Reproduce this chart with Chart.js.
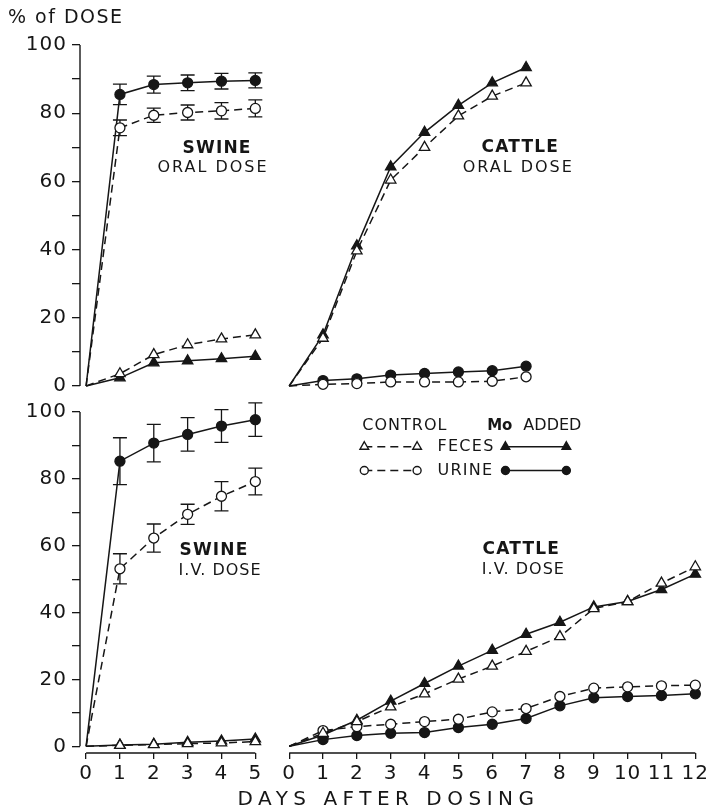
<!DOCTYPE html>
<html>
<head>
<meta charset="utf-8">
<title>Molybdenum excretion in swine and cattle</title>
<script src="https://cdn.jsdelivr.net/npm/chart.js@4.4.0/dist/chart.umd.min.js"></script>
<style>
  html, body { margin: 0; padding: 0; background: #ffffff; }
  #wrap { position: relative; width: 708px; height: 812px; overflow: hidden; }
  #topBox { position: absolute; left: 0; top: 0; width: 708px; height: 403px; }
  #botBox { position: absolute; left: 0; top: 395px; width: 708px; height: 417px; }
</style>
</head>
<body>
<div id="wrap">
  <div id="topBox"><canvas id="topChart"></canvas></div>
  <div id="botBox"><canvas id="botChart"></canvas></div>
</div>
<script>
// ---- Days and axis ticks ----
const swineDays = [0, 1, 2, 3, 4, 5];
const cattleOralDays = [0, 1, 2, 3, 4, 5, 6, 7];
const cattleIvDays = [0, 1, 2, 3, 4, 5, 6, 7, 8, 9, 10, 11, 12];
const cattleOffset = 6; // cattle days follow the swine block on the shared day axis
const xTickLabels = ['0', '1', '2', '3', '4', '5',
                     '0', '1', '2', '3', '4', '5', '6', '7', '8', '9', '10', '11', '12'];
const yTickValues = [0, 10, 20, 30, 40, 50, 60, 70, 80, 90, 100];

// ---- Swine, oral dose (% of dose, cumulative) ----
const swineOralFecesControl = [0, 3.6, 9.2, 12.1, 13.8, 15.0];
const swineOralFecesMo      = [0, 2.4, 6.8, 7.4, 8.0, 8.7];
const swineOralUrineControl = [0, 75.7, 79.4, 80.2, 80.7, 81.4];
const swineOralUrineControlErr = [0, 2.3, 2.1, 2.2, 2.4, 2.5];
const swineOralUrineMo      = [0, 85.5, 88.4, 88.9, 89.4, 89.6];
const swineOralUrineMoErr   = [0, 3.0, 2.5, 2.3, 2.3, 2.2];

// ---- Cattle, oral dose ----
const cattleOralFecesControl = [0, 14.0, 39.6, 60.4, 70.0, 79.2, 85.0, 88.9];
const cattleOralFecesMo      = [0, 15.0, 41.1, 64.3, 74.4, 82.3, 88.9, 93.4];
const cattleOralUrineControl = [0, 0.5, 0.7, 1.2, 1.2, 1.2, 1.4, 2.7];
const cattleOralUrineMo      = [0, 1.6, 2.1, 3.2, 3.7, 4.1, 4.5, 5.8];

// ---- Swine, I.V. dose ----
const swineIvFecesControl = [0, 0.3, 0.5, 0.8, 1.0, 1.4];
const swineIvFecesMo      = [0, 0.4, 0.6, 1.2, 1.6, 2.2];
const swineIvUrineControl = [0, 53.1, 62.3, 69.4, 74.8, 79.2];
const swineIvUrineControlErr = [0, 4.5, 4.2, 3.0, 4.4, 4.0];
const swineIvUrineMo      = [0, 85.3, 90.7, 93.3, 95.8, 97.7];
const swineIvUrineMoErr   = [0, 7.0, 5.6, 5.0, 4.9, 5.0];

// ---- Cattle, I.V. dose ----
const cattleIvFecesControl = [0, 3.9, 7.4, 11.8, 15.7, 20.1, 24.0, 28.4, 32.8, 41.2, 43.3, 48.8, 53.7];
const cattleIvFecesMo      = [0, 3.4, 7.8, 13.5, 18.8, 24.0, 28.7, 33.5, 37.1, 41.7, 43.3, 46.9, 51.5];
const cattleIvUrineControl = [0, 4.7, 5.9, 6.6, 7.4, 8.1, 10.3, 11.3, 14.9, 17.4, 17.8, 18.1, 18.3];
const cattleIvUrineMo      = [0, 2.0, 3.2, 3.9, 4.1, 5.6, 6.6, 8.3, 12.1, 14.5, 14.9, 15.2, 15.7];

// ---- Styling ----
const INK = '#161616';
const FONT = '"DejaVu Sans", "Liberation Sans", sans-serif';
const TREATMENT = {
  control: { dash: [8, 5], fill: '#ffffff' },
  mo:      { dash: [],     fill: INK }
};
const EXCRETA = {
  feces: { pointStyle: 'triangle', radius: 6 },
  urine: { pointStyle: 'circle',   radius: 5 }
};

function series(label, days, values, offset, treatment, excreta, errors) {
  const t = TREATMENT[treatment], e = EXCRETA[excreta];
  return {
    label,
    data: days.map((d, i) => ({ x: d + offset, y: values[i] })),
    errors: errors || null,
    borderColor: INK,
    borderWidth: 1.5,
    borderDash: t.dash,
    tension: 0,
    fill: false,
    clip: false,
    pointStyle: e.pointStyle,
    pointRadius: days.map(d => (d === 0 ? 0 : e.radius)),
    pointHoverRadius: 0,
    pointBackgroundColor: t.fill,
    pointBorderColor: INK,
    pointBorderWidth: 1.3
  };
}

function drawMarker(ctx, style, x, y, r, filled) {
  ctx.beginPath();
  if (style === 'circle') {
    ctx.arc(x, y, r, 0, Math.PI * 2);
  } else {
    let a = 0;
    ctx.moveTo(x + Math.sin(a) * r, y - Math.cos(a) * r);
    a += 2 * Math.PI / 3;
    ctx.lineTo(x + Math.sin(a) * r, y - Math.cos(a) * r);
    a += 2 * Math.PI / 3;
    ctx.lineTo(x + Math.sin(a) * r, y - Math.cos(a) * r);
  }
  ctx.closePath();
  ctx.fillStyle = filled ? INK : '#ffffff';
  ctx.fill();
  ctx.stroke();
}

function drawText(ctx, item, px, py) {
  ctx.save();
  ctx.font = (item.bold ? 'bold ' : '') + item.size + 'px ' + FONT;
  ctx.letterSpacing = (item.spacing || 0) + 'px';
  ctx.fillStyle = INK;
  ctx.textBaseline = 'middle';
  ctx.textAlign = item.align || 'center';
  ctx.fillText(item.text, px, py);
  ctx.restore();
}

// Error bars, axis lines, panel captions and the key
const decor = {
  id: 'decor',
  beforeDraw(chart) {
    chart.ctx.letterSpacing = '1px';
  },
  beforeDatasetsDraw(chart, args, opts) {
    const ctx = chart.ctx, xs = chart.scales.x, ys = chart.scales.y;
    const area = chart.chartArea;
    ctx.save();
    ctx.letterSpacing = '0px';
    ctx.strokeStyle = INK;
    ctx.lineWidth = 1.4;
    // axis lines
    ctx.beginPath();
    ctx.moveTo(area.left, ys.getPixelForValue(100));
    ctx.lineTo(area.left, ys.getPixelForValue(0));
    (opts.xSegments || []).forEach(([a, b]) => {
      ctx.moveTo(xs.getPixelForValue(a), area.bottom);
      ctx.lineTo(xs.getPixelForValue(b), area.bottom);
    });
    ctx.stroke();
    // error bars (± SE)
    const cap = 7;
    ctx.lineWidth = 1.3;
    chart.data.datasets.forEach(ds => {
      if (!ds.errors) return;
      ds.data.forEach((p, i) => {
        const e = ds.errors[i];
        if (!e) return;
        const x = xs.getPixelForValue(p.x);
        const hi = ys.getPixelForValue(p.y + e);
        const lo = ys.getPixelForValue(p.y - e);
        ctx.beginPath();
        ctx.moveTo(x, hi); ctx.lineTo(x, lo);
        ctx.moveTo(x - cap, hi); ctx.lineTo(x + cap, hi);
        ctx.moveTo(x - cap, lo); ctx.lineTo(x + cap, lo);
        ctx.stroke();
      });
    });
    ctx.restore();
  },
  afterDraw(chart, args, opts) {
    const ctx = chart.ctx, xs = chart.scales.x, ys = chart.scales.y;
    (opts.captions || []).forEach(c => {
      drawText(ctx, c, xs.getPixelForValue(c.x), ys.getPixelForValue(c.y));
    });
    (opts.fixedTexts || []).forEach(c => {
      const px = c.px === 'center' ? (chart.chartArea.left + chart.chartArea.right) / 2 : c.px;
      const py = c.fromBottom != null ? chart.height - c.fromBottom : c.py;
      drawText(ctx, c, px, py);
    });
    const k = opts.key;
    if (k) {
      ctx.save();
      ctx.letterSpacing = '0px';
      ctx.strokeStyle = INK;
      ctx.lineWidth = 1.4;
      const X = v => xs.getPixelForValue(v), Y = v => ys.getPixelForValue(v);
      k.heads.forEach(h => drawText(ctx, h, X(h.x), Y(k.headY)));
      k.rows.forEach(r => {
        const y = Y(r.y);
        // control: dashed
        ctx.setLineDash([8, 5]);
        ctx.beginPath(); ctx.moveTo(X(k.c0), y); ctx.lineTo(X(k.c1), y); ctx.stroke();
        ctx.setLineDash([]);
        drawMarker(ctx, r.style, X(k.c0), y, r.r, false);
        drawMarker(ctx, r.style, X(k.c1), y, r.r, false);
        drawText(ctx, { text: r.text, size: 16, spacing: 1.3, align: 'left' }, X(k.textX), y);
        // Mo added: solid
        ctx.beginPath(); ctx.moveTo(X(k.m0), y); ctx.lineTo(X(k.m1), y); ctx.stroke();
        drawMarker(ctx, r.style, X(k.m0), y, r.r, true);
        drawMarker(ctx, r.style, X(k.m1), y, r.r, true);
      });
      ctx.restore();
    }
    ctx.letterSpacing = '0px';
  }
};

function baseOptions(showX, padding, decorOpts) {
  return {
    responsive: true,
    maintainAspectRatio: false,
    devicePixelRatio: 1,
    animation: false,
    events: [],
    layout: { padding },
    plugins: { legend: { display: false }, tooltip: { enabled: false }, title: { display: false }, decor: decorOpts },
    scales: {
      x: {
        type: 'linear',
        display: showX,
        min: -0.18,
        max: 18.05,
        border: { display: false },
        grid: { drawOnChartArea: false, drawTicks: true, tickLength: 6, color: INK, lineWidth: 1.3 },
        afterBuildTicks: s => { s.ticks = xTickLabels.map((_, i) => ({ value: i })); },
        afterFit: s => { s.paddingLeft = 0; s.paddingRight = 0; },
        ticks: {
          autoSkip: false, maxRotation: 0, padding: 3, color: INK,
          font: { family: FONT, size: 20 },
          callback: v => xTickLabels[v] ?? ''
        }
      },
      y: {
        type: 'linear',
        min: showX ? -2 : 0,
        max: 100,
        border: { display: false },
        grid: { drawOnChartArea: false, drawTicks: true, tickLength: 8, color: INK, lineWidth: 1.3 },
        afterBuildTicks: s => { s.ticks = yTickValues.map(v => ({ value: v })); },
        afterFit: s => { s.width = 72; },
        ticks: {
          padding: 5, color: INK,
          font: { family: FONT, size: 20 },
          callback: v => (v % 20 === 0 ? String(v) : '')
        }
      }
    }
  };
}

// ---- Oral dose panel ----
new Chart(document.getElementById('topChart'), {
  type: 'line',
  data: {
    datasets: [
      series('Swine feces, control', swineDays, swineOralFecesControl, 0, 'control', 'feces'),
      series('Swine feces, Mo added', swineDays, swineOralFecesMo, 0, 'mo', 'feces'),
      series('Swine urine, control', swineDays, swineOralUrineControl, 0, 'control', 'urine', swineOralUrineControlErr),
      series('Swine urine, Mo added', swineDays, swineOralUrineMo, 0, 'mo', 'urine', swineOralUrineMoErr),
      series('Cattle feces, control', cattleOralDays, cattleOralFecesControl, cattleOffset, 'control', 'feces'),
      series('Cattle feces, Mo added', cattleOralDays, cattleOralFecesMo, cattleOffset, 'mo', 'feces'),
      series('Cattle urine, control', cattleOralDays, cattleOralUrineControl, cattleOffset, 'control', 'urine'),
      series('Cattle urine, Mo added', cattleOralDays, cattleOralUrineMo, cattleOffset, 'mo', 'urine')
    ]
  },
  options: baseOptions(false, { left: 8, right: 11, top: 45, bottom: 13 }, {
    captions: [
      { text: 'SWINE', x: 3.87, y: 69.7, size: 17, bold: true, spacing: 1.2 },
      { text: 'ORAL DOSE', x: 3.75, y: 64.1, size: 16, spacing: 2 },
      { text: 'CATTLE', x: 12.83, y: 70.0, size: 17, bold: true, spacing: 1.2 },
      { text: 'ORAL DOSE', x: 12.77, y: 64.1, size: 16, spacing: 2 }
    ],
    fixedTexts: [
      { text: '% of DOSE', px: 8, py: 18, size: 19, spacing: 1.5, align: 'left' }
    ]
  }),
  plugins: [decor]
});

// ---- I.V. dose panel ----
new Chart(document.getElementById('botChart'), {
  type: 'line',
  data: {
    datasets: [
      series('Swine feces, control', swineDays, swineIvFecesControl, 0, 'control', 'feces'),
      series('Swine feces, Mo added', swineDays, swineIvFecesMo, 0, 'mo', 'feces'),
      series('Swine urine, control', swineDays, swineIvUrineControl, 0, 'control', 'urine', swineIvUrineControlErr),
      series('Swine urine, Mo added', swineDays, swineIvUrineMo, 0, 'mo', 'urine', swineIvUrineMoErr),
      series('Cattle feces, control', cattleIvDays, cattleIvFecesControl, cattleOffset, 'control', 'feces'),
      series('Cattle feces, Mo added', cattleIvDays, cattleIvFecesMo, cattleOffset, 'mo', 'feces'),
      series('Cattle urine, control', cattleIvDays, cattleIvUrineControl, cattleOffset, 'control', 'urine'),
      series('Cattle urine, Mo added', cattleIvDays, cattleIvUrineMo, cattleOffset, 'mo', 'urine')
    ]
  },
  options: baseOptions(true, { left: 8, right: 11, top: 12, bottom: 23 }, {
    xSegments: [[0, 5], [6, 18]],
    captions: [
      { text: 'SWINE', x: 3.78, y: 58.5, size: 17, bold: true, spacing: 1.2 },
      { text: 'I.V. DOSE', x: 3.96, y: 52.6, size: 16, spacing: 1 },
      { text: 'CATTLE', x: 12.86, y: 58.8, size: 17, bold: true, spacing: 1.2 },
      { text: 'I.V. DOSE', x: 12.92, y: 52.9, size: 16, spacing: 1 }
    ],
    fixedTexts: [
      { text: 'DAYS AFTER DOSING', px: 'center', fromBottom: 12, size: 20, spacing: 5.5 }
    ],
    key: {
      headY: 95.9,
      heads: [
        { text: 'CONTROL', x: 8.16, size: 16, spacing: 1, align: 'left' },
        { text: 'Mo', x: 11.85, size: 15, bold: true, align: 'left' },
        { text: 'ADDED', x: 12.92, size: 16, align: 'left' }
      ],
      c0: 8.22, c1: 9.78, textX: 10.38, m0: 12.39, m1: 14.19,
      rows: [
        { text: 'FECES', y: 89.6, style: 'triangle', r: 5 },
        { text: 'URINE', y: 82.5, style: 'circle', r: 4 }
      ]
    }
  }),
  plugins: [decor]
});
</script>
</body>
</html>
